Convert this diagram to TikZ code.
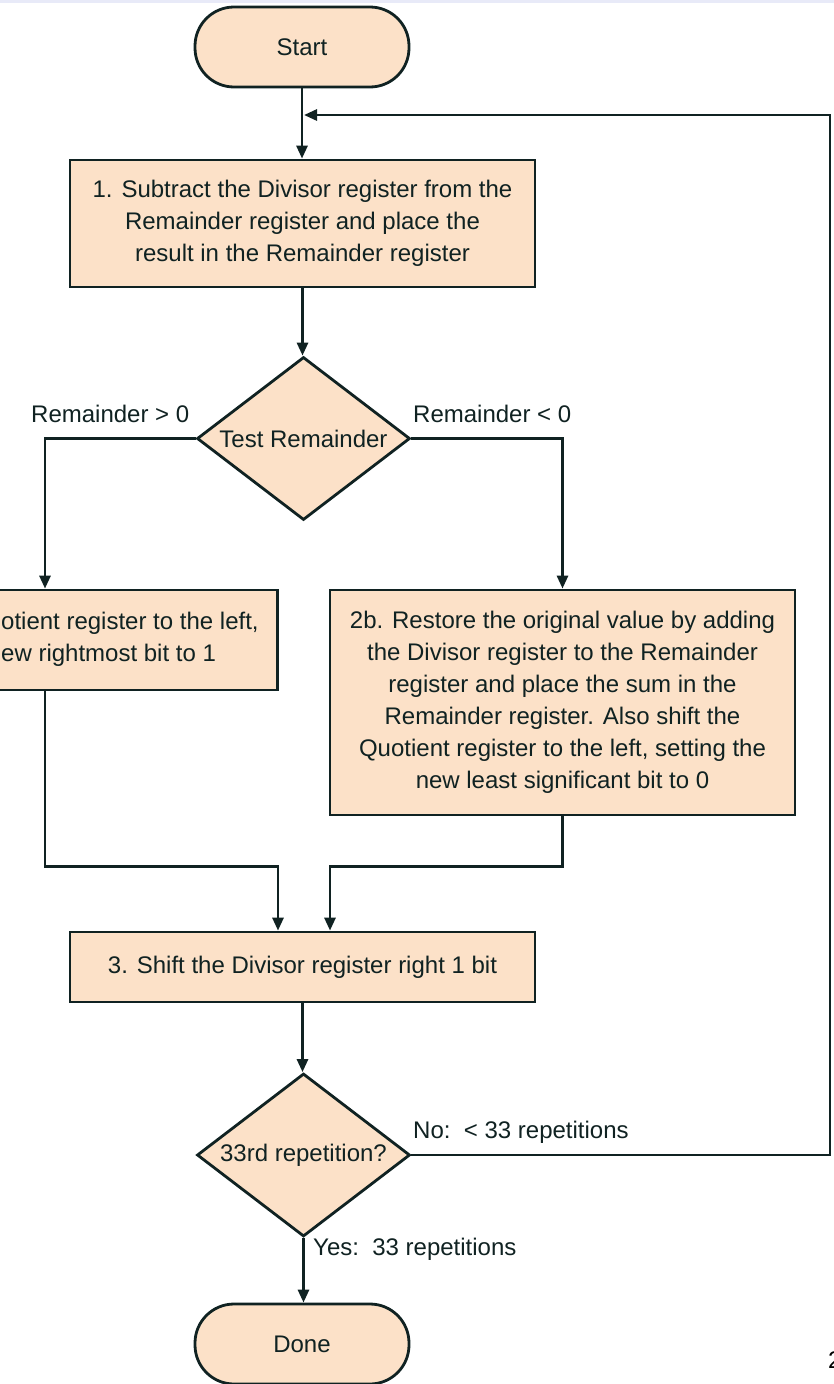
\documentclass[tikz,border=0pt]{standalone}
\usepackage{fontspec}
\setmainfont{Liberation Sans}
\usetikzlibrary{arrows.meta,shapes.geometric}
\definecolor{peach}{RGB}{252,225,200}
\definecolor{ink}{RGB}{16,34,34}
\definecolor{strip}{RGB}{232,234,248}
\begin{document}
\begin{tikzpicture}[x=1pt,y=1pt,
  font=\fontsize{24}{32}\selectfont,
  box/.style={draw=ink, fill=peach, line width=2.8pt, inner sep=0pt, align=center, text=ink},
  term/.style={box, rounded corners=39pt, minimum width=214pt, minimum height=80pt},
  dec/.style={draw=ink, fill=peach, line width=2.8pt, diamond, inner sep=0pt,
              minimum width=213pt, minimum height=163pt},
  conn/.style={draw=ink, line width=2.8pt},
  arr/.style={conn, -{Triangle[length=13pt,width=11pt]}},
  lbl/.style={text=ink, anchor=west, inner sep=0pt}]
\fill[white] (0,0) rectangle (834,-1384);
\fill[strip] (0,0) rectangle (834,-2.5);
\useasboundingbox (0,0) rectangle (834,-1384);

\node[term] (start) at (302,-47) {Start};
\node[box, minimum width=465pt, minimum height=127pt] (s1) at (302.5,-223.5)
  {1. Subtract the Divisor register from the\\Remainder register and place the\\result in the Remainder register};
\node[dec, label={[text=ink]center:Test Remainder}] (d1) at (303.5,-438.5) {};
\node[box, minimum width=465pt, minimum height=100pt] (s2a) at (45,-640) {};
\node[lbl, align=left] (t2a) at (1,-639.5) {otient register to the left,\\ew rightmost bit to 1};
\node[box, minimum width=465pt, minimum height=225pt] (s2b) at (562.5,-702.5)
  {2b. Restore the original value by adding\\the Divisor register to the Remainder\\register and place the sum in the\\Remainder register. Also shift the\\Quotient register to the left, setting the\\new least significant bit to 0};
\node[box, minimum width=465pt, minimum height=70pt] (s3) at (302.5,-967)
  {3. Shift the Divisor register right 1 bit};
\node[dec, label={[text=ink]center:33rd repetition?}] (d2) at (303.5,-1155) {};
\node[term] (done) at (302,-1344) {Done};

\node[lbl] (lge) at (31,-414) {Remainder > 0};
\node[lbl] (llt) at (413,-414) {Remainder < 0};
\node[lbl] (lno) at (413,-1132) {No:\ \ < 33 repetitions};
\node[lbl] (lyes) at (313,-1249) {Yes:\ \ 33 repetitions};
\node[anchor=west, inner sep=0pt, text=black] (pg) at (828,-1360) {2};

\coordinate (loopc) at (830,-115);

\draw[arr] (start.south) -- (start.south |- s1.north);
\draw[arr] (s1.south) -- (s1.south |- d1.north);
\draw[arr] (d1.west) -| (s2a.north);
\draw[arr] (d1.east) -| (s2b.north);
\draw[arr] (s2a.south) -- ++(0,-175) -| ([xshift=-24.5pt]s3.north);
\draw[arr] (s2b.south) -- ++(0,-50) -| ([xshift=27.5pt]s3.north);
\draw[arr] (s3.south) -- (s3.south |- d2.north);
\draw[arr] (d2.south) -- (d2.south |- done.north);
\draw[arr] (d2.east) -| (loopc) -- ([xshift=2pt]start.south |- loopc);
\end{tikzpicture}
\end{document}
